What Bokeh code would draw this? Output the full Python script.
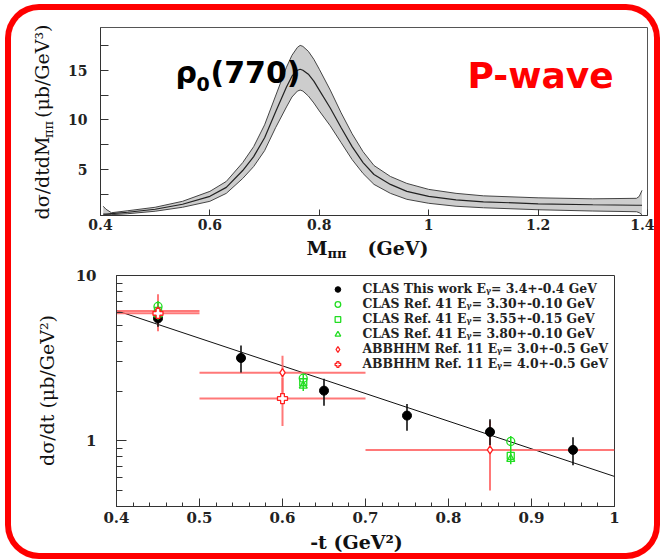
import numpy as np
from bokeh.plotting import figure
from bokeh.models import Label, FixedTicker, Legend, LegendItem, Range1d
from bokeh.layouts import column, row
from bokeh.embed import file_html
from bokeh.resources import INLINE

# ---------------- data: top panel (P-wave band) ----------------
m_pipi = [0.405, 0.41, 0.42, 0.45, 0.50, 0.55, 0.60, 0.63, 0.66, 0.68, 0.70, 0.72,
          0.74, 0.75, 0.76, 0.765, 0.77, 0.78, 0.79, 0.80, 0.82, 0.84, 0.86, 0.88,
          0.90, 0.93, 0.96, 1.00, 1.05, 1.10, 1.20, 1.30, 1.38, 1.385, 1.39]
band_central = [0.5, 0.5, 0.55, 0.7, 1.0, 1.5, 2.3, 3.2, 4.9, 6.3, 8.2, 10.8,
                13.3, 14.4, 15.0, 15.1, 15.0, 14.6, 13.9, 13.0, 11.2, 9.2, 7.3, 5.7,
                4.5, 3.5, 2.8, 2.3, 1.95, 1.75, 1.55, 1.45, 1.4, 1.4, 1.4]
band_upper = [1.3, 1.0, 0.65, 0.85, 1.2, 1.8, 2.8, 3.8, 5.7, 7.3, 9.5, 12.4,
              15.3, 16.5, 17.3, 17.5, 17.4, 16.9, 16.1, 15.1, 13.0, 10.7, 8.6, 6.8,
              5.4, 4.3, 3.6, 3.0, 2.6, 2.35, 2.15, 2.05, 2.1, 2.3, 2.9]
band_lower = [0.4, 0.45, 0.45, 0.55, 0.8, 1.2, 1.8, 2.6, 4.1, 5.3, 6.9, 9.2,
              11.3, 12.3, 12.9, 13.0, 12.9, 12.4, 11.7, 10.9, 9.4, 7.7, 6.0, 4.6,
              3.5, 2.6, 2.0, 1.6, 1.3, 1.15, 0.95, 0.82, 0.75, 0.65, 0.45]
top_x_ticks = [0.4, 0.6, 0.8, 1.0, 1.2, 1.4]
top_x_labels = ["0.4", "0.6", "0.8", "1", "1.2", "1.4"]
top_y_ticks = [5, 10, 15]
top_y_minor = [2.5, 7.5, 12.5, 17.5]

# ---------------- data: bottom panel (dsigma/dt) ----------------
clas_t = [0.45, 0.55, 0.65, 0.75, 0.85, 0.95]
clas_v = [5.5, 3.17, 2.01, 1.42, 1.13, 0.88]
clas_lo = [4.9, 2.59, 1.63, 1.15, 0.94, 0.71]
clas_hi = [6.2, 3.77, 2.37, 1.67, 1.35, 1.05]

ref41_t = [0.45, 0.625, 0.875]
ref41a_v = [6.5, 2.39, 0.99]      # E = 3.30
ref41b_v = [6.1, 2.26, 0.81]      # E = 3.55
ref41c_v = [5.8, 2.15, 0.775]     # E = 3.80
ref41_lo = [5.4, 2.0, 0.72]
ref41_hi = [7.0, 2.55, 1.07]

abb3_t = [0.45, 0.60, 0.85]
abb3_v = [6.1, 2.58, 0.88]
abb3_tlo = [0.40, 0.50, 0.70]
abb3_thi = [0.50, 0.70, 1.00]
abb3_lo = [4.6, 1.95, 0.5]
abb3_hi = [7.7, 3.27, 1.32]

abb4_t = [0.45, 0.60]
abb4_v = [5.9, 1.80]
abb4_tlo = [0.40, 0.50]
abb4_thi = [0.50, 0.70]
abb4_lo = [5.0, 1.23]
abb4_hi = [6.9, 2.4]

fit_t = [0.4, 1.0]
fit_v = [6.13, 0.608]

bot_x_ticks = [0.4, 0.5, 0.6, 0.7, 0.8, 0.9, 1.0]
bot_x_labels = ["0.4", "0.5", "0.6", "0.7", "0.8", "0.9", "1"]
bot_y_ticks = [1, 10]
bot_y_labels = ["1", "10"]

legend_labels = [
    "CLAS This work E\u1d67= 3.4+-0.4 GeV",
    "CLAS Ref. 41 E\u1d67= 3.30+-0.10 GeV",
    "CLAS Ref. 41 E\u1d67= 3.55+-0.15 GeV",
    "CLAS Ref. 41 E\u1d67= 3.80+-0.10 GeV",
    "ABBHHM Ref. 11 E\u1d67= 3.0+-0.5 GeV",
    "ABBHHM Ref. 11 E\u1d67= 4.0+-0.5 GeV",
]

GREEN = "#22dd22"
RED = "#ff2020"
REDBAR = "#ff6060"
TICKFONT = "DejaVu Serif"


def style_axis(ax, size="14px", standoff=6):
    ax.axis_line_color = "#333333"
    ax.major_tick_line_color = "#333333"
    ax.minor_tick_line_color = "#333333"
    ax.major_tick_out = 0
    ax.minor_tick_out = 0
    ax.major_label_text_font = TICKFONT
    ax.major_label_text_font_style = "bold"
    ax.major_label_text_font_size = size
    ax.major_label_text_color = "#222222"
    ax.major_label_standoff = standoff


def lab(p, conv, px, py, text, font, size, style="normal", align="left",
        color="#111111", angle=0):
    """Place a label with its alphabetic baseline at page pixel (px, py)."""
    k = 0.32 * size           # Label draws the baseline ~0.32em below its anchor
    if angle == 0:
        py = py - k
    else:
        px = px - k
    x, y = conv(px, py)
    p.add_layout(Label(x=x, y=y, text=text, text_font=font, text_font_size=f"{size}px",
                       text_font_style=style, text_align=align, text_baseline="alphabetic",
                       text_color=color, angle=angle, angle_units="deg"))


def text_fig(w, h):
    f = figure(width=w, height=h, x_range=Range1d(0, w), y_range=Range1d(0, h),
               output_backend="svg", toolbar_location=None, min_border=0,
               title_location=None,
               x_axis_location=None, y_axis_location=None, frame_align=False)
    f.grid.visible = False
    f.outline_line_color = None
    f.border_fill_alpha = 0
    f.background_fill_alpha = 0
    return f


def page_conv(left, bottom):
    return lambda px, py: (px - left, bottom - py)


# ---------------- top figure (page x 63..654, y 10..235) ----------------
T_X0, T_X1, T_Y0, T_Y1 = 0.4, 1.4, 0.37, 19.3
p1 = figure(width=591, height=225, x_range=Range1d(T_X0, T_X1), y_range=Range1d(T_Y0, T_Y1),
            output_backend="svg", toolbar_location=None, frame_align=False,
            min_border_left=37, min_border_right=7, min_border_top=17, min_border_bottom=20)
p1.grid.visible = False
p1.outline_line_color = "#555555"
p1.outline_line_width = 1
p1.border_fill_alpha = 0

p1.varea(x=m_pipi, y1=band_lower, y2=band_upper, fill_color="#cdcdcd")
p1.line(m_pipi, band_upper, line_color="#444444", line_width=1)
p1.line(m_pipi, band_lower, line_color="#444444", line_width=1)
p1.line(m_pipi, band_central, line_color="#222222", line_width=1.2)

style_axis(p1.xaxis[0], "14px", 3)
style_axis(p1.yaxis[0], "14px", 13)
p1.xaxis.ticker = FixedTicker(ticks=top_x_ticks, minor_ticks=[])
p1.xaxis.major_label_overrides = {t: s for t, s in zip(top_x_ticks, top_x_labels)}
p1.xaxis.major_tick_in = 6
p1.yaxis.ticker = FixedTicker(ticks=top_y_ticks, minor_ticks=top_y_minor)
p1.yaxis.major_tick_in = 8
p1.yaxis.minor_tick_in = 8


def p1_conv(px, py):
    return (T_X0 + (px - 100) / 547.0, T_Y1 - (py - 27) * (T_Y1 - T_Y0) / 188.0)


lab(p1, p1_conv, 175, 82, "\u03c1", "DejaVu Sans", 30, "bold", color="#000000")
lab(p1, p1_conv, 196, 90, "0", "DejaVu Sans", 19, "bold", color="#000000")
lab(p1, p1_conv, 210, 82, "(770)", "DejaVu Sans", 30, "bold", color="#000000")
lab(p1, p1_conv, 467, 87, "P-wave", "DejaVu Sans", 36, "bold", color="#ff0000")

# x title of top panel: M_pipi (GeV)   (page x 63..654, y 235..260)
xt = text_fig(591, 25)
cxt = page_conv(63, 260)
lab(xt, cxt, 306, 253.5, "M", "DejaVu Serif", 19, "bold")
lab(xt, cxt, 327, 257.5, "\u03c0\u03c0", "DejaVu Serif", 13, "bold")
lab(xt, cxt, 428, 253.5, "(GeV)", "DejaVu Serif", 19, "bold", align="right")

# y title of top panel (rotated)   (page x 11..63, y 10..260)
yt = text_fig(52, 250)
cyt = page_conv(11, 260)
fs = 19
w1 = 4.24 * fs
lab(yt, cyt, 48, 219, "d\u03c3/dtdM", "DejaVu Serif", fs, angle=90)
lab(yt, cyt, 52, 219 - w1 - 1, "\u03c0\u03c0", "DejaVu Serif", 13, angle=90)
lab(yt, cyt, 48, 24, "(\u03bcb/GeV\u00b3)", "DejaVu Serif", fs, align="right", angle=90)

# ---------------- bottom figure (page x 63..654, y 260..530) ----------------
B_X0, B_X1, B_Y0, B_Y1 = 0.4, 1.0, 0.4, 10.0
p2 = figure(width=591, height=270, x_range=Range1d(B_X0, B_X1), y_range=Range1d(B_Y0, B_Y1),
            y_axis_type="log", output_backend="svg", toolbar_location=None, frame_align=False,
            min_border_left=53, min_border_right=40, min_border_top=15, min_border_bottom=24)
p2.grid.visible = False
p2.outline_line_color = "#333333"
p2.outline_line_width = 1
p2.border_fill_alpha = 0

style_axis(p2.xaxis[0], "15px", 5)
style_axis(p2.yaxis[0], "15px", 20)
p2.xaxis.ticker = FixedTicker(ticks=bot_x_ticks,
                              minor_ticks=[round(0.4 + 0.02 * i, 2) for i in range(31)])
p2.xaxis.major_label_overrides = {t: s for t, s in zip(bot_x_ticks, bot_x_labels)}
p2.xaxis.major_tick_in = 8
p2.xaxis.minor_tick_in = 4
p2.yaxis.ticker = FixedTicker(ticks=bot_y_ticks,
                              minor_ticks=[0.4, 0.5, 0.6, 0.7, 0.8, 0.9, 2, 3, 4, 5, 6, 7, 8, 9])
p2.yaxis.major_label_overrides = {t: s for t, s in zip(bot_y_ticks, bot_y_labels)}
p2.yaxis.major_tick_in = 10
p2.yaxis.minor_tick_in = 6

p2.line(fit_t, fit_v, line_color="#111111", line_width=1)

p2.segment(x0=abb3_tlo, y0=abb3_v, x1=abb3_thi, y1=abb3_v, line_color=REDBAR, line_width=2, line_alpha=0.85)
p2.segment(x0=abb3_t, y0=abb3_lo, x1=abb3_t, y1=abb3_hi, line_color=REDBAR, line_width=2, line_alpha=0.85)
p2.segment(x0=abb4_tlo, y0=abb4_v, x1=abb4_thi, y1=abb4_v, line_color=REDBAR, line_width=2, line_alpha=0.85)
p2.segment(x0=abb4_t, y0=abb4_lo, x1=abb4_t, y1=abb4_hi, line_color=REDBAR, line_width=2, line_alpha=0.85)

p2.segment(x0=clas_t, y0=clas_lo, x1=clas_t, y1=clas_hi, line_color="#111111", line_width=1.6)
r_clas = p2.scatter(clas_t, clas_v, marker="circle", size=9, fill_color="#000000", line_color="#000000")

p2.segment(x0=ref41_t, y0=ref41_lo, x1=ref41_t, y1=ref41_hi, line_color=GREEN, line_width=1.5)
r_g1 = p2.scatter(ref41_t, ref41a_v, marker="circle", size=8, fill_alpha=0, line_color=GREEN, line_width=1.3)
r_g2 = p2.scatter(ref41_t, ref41b_v, marker="square", size=7, fill_alpha=0, line_color=GREEN, line_width=1.3)
r_g3 = p2.scatter(ref41_t, ref41c_v, marker="triangle", size=8, fill_alpha=0, line_color=GREEN, line_width=1.3)

r_r1 = p2.scatter(abb3_t, abb3_v, marker="diamond", size=8, fill_color="white", line_color=RED, line_width=1.3)
r_r2 = p2.scatter(abb4_t, abb4_v, marker="plus", size=10, fill_color="white", line_color=RED, line_width=1.3)

legend = Legend(items=[LegendItem(label=l, renderers=[r]) for l, r in
                       zip(legend_labels, [r_clas, r_g1, r_g2, r_g3, r_r1, r_r2])],
                location="top_right", margin=2, padding=4, spacing=0,
                glyph_width=14, glyph_height=14, label_height=14, label_standoff=18,
                label_text_font="DejaVu Serif", label_text_font_style="bold",
                label_text_font_size="12.4px", label_text_color="#222222",
                border_line_alpha=0, background_fill_alpha=0)
p2.add_layout(legend)

# x title of bottom panel   (page x 63..654, y 530..553)
xb = text_fig(591, 23)
lab(xb, page_conv(63, 553), 356, 548, "-t (GeV\u00b2)", "DejaVu Serif", 19, "bold", align="center")

# y title of bottom panel   (page x 11..63, y 260..553)
yb = text_fig(52, 293)
lab(yb, page_conv(11, 553), 53, 390, "d\u03c3/dt (\u03bcb/GeV\u00b2)", "DejaVu Serif", 19,
    align="center", angle=90)

layout = column(
    row(yt, column(p1, xt, spacing=0), spacing=0),
    row(yb, column(p2, xb, spacing=0), spacing=0),
    spacing=0,
    styles={"box-shadow": "0 0 0 6px #ff0000", "border-radius": "28px",
            "margin-left": "11px", "margin-top": "10px",
            "overflow": "hidden", "background-color": "white"})

open("out.html", "w").write(file_html(layout, INLINE))
